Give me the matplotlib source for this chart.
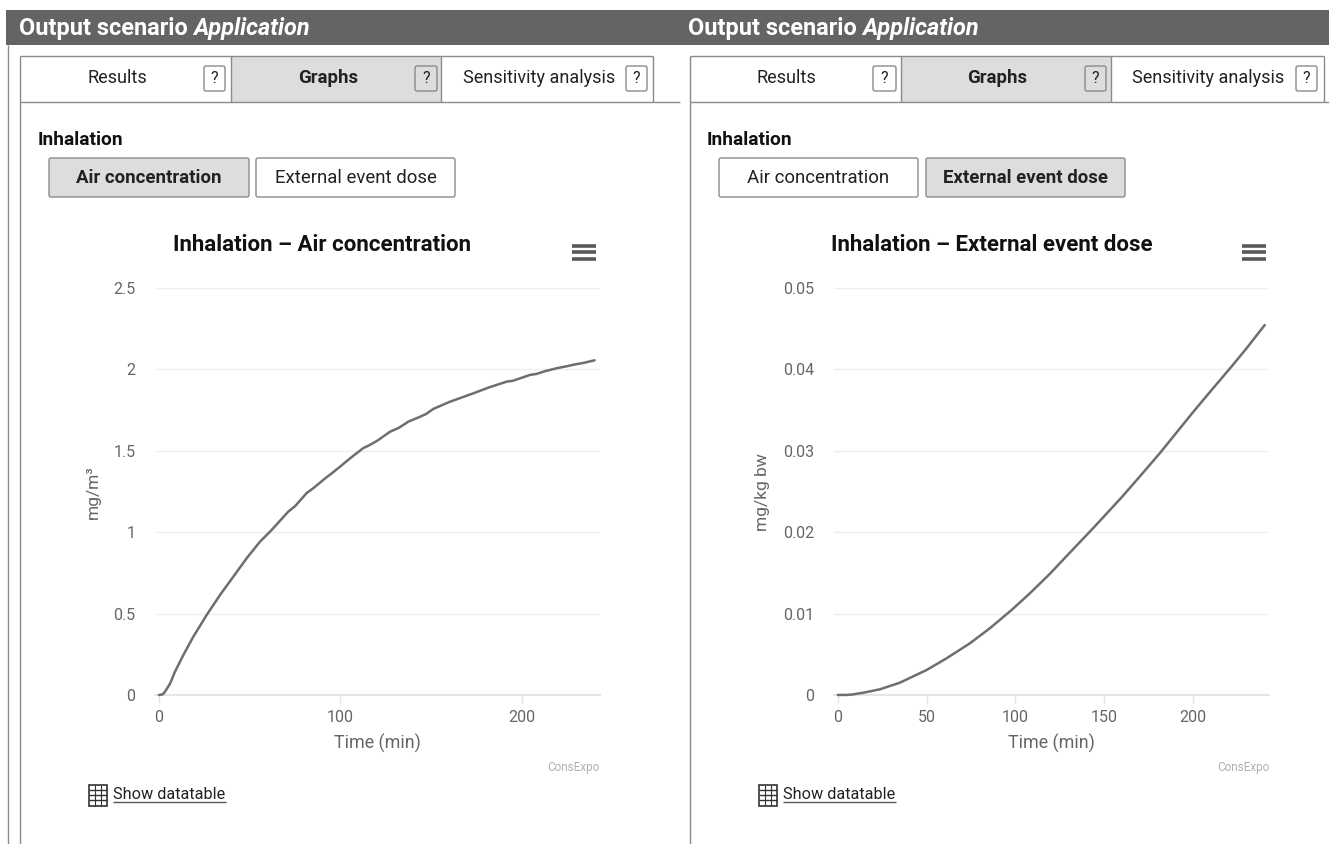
import matplotlib
matplotlib.use('Agg')
import matplotlib.pyplot as plt
from matplotlib.patches import Rectangle, FancyBboxPatch

plt.rcParams['font.family'] = ['Roboto', 'DejaVu Sans']

W, H = 1329, 844
DARK = '#636466'
EDGE = '#8a8b8d'
FILL = '#dcddde'
TEXT = '#222222'
AXTEXT = '#666666'
LINE = '#6d6e70'

# values
air_time = [0, 2, 3.3, 6.1, 8.8, 13.4, 18.9, 26.3, 33.6, 40.9, 48.3, 55.6, 62.1, 71.2, 75, 81.4, 85, 91.5, 95, 99.7,
            106, 112.6, 116, 120, 127.3, 132, 137.4, 143, 147, 151.1, 160, 173.2, 182, 191.6, 195, 204.4, 208, 213,
            219.1, 225, 229, 234, 240]
air_conc = [0, 0.004, 0.02, 0.07, 0.143, 0.245, 0.358, 0.492, 0.614, 0.726, 0.84, 0.941, 1.014, 1.126, 1.16, 1.241,
            1.27, 1.33, 1.36, 1.402, 1.46, 1.517, 1.535, 1.56, 1.617, 1.64, 1.679, 1.705, 1.725, 1.757, 1.8, 1.853,
            1.89, 1.925, 1.93, 1.966, 1.972, 1.99, 2.007, 2.02, 2.03, 2.04, 2.056]
dose_time = [0, 5, 8, 14.3, 23.7, 34.9, 50, 61.2, 74.4, 85.6, 97.9, 108.2, 119.4, 131, 143.8, 160, 170, 181.4, 200, 210,
             221.8, 230, 240.6]
dose_val = [0, 0.00001, 0.00006, 0.00028, 0.0007, 0.00151, 0.00307, 0.0045, 0.00635, 0.00819, 0.01044, 0.01249,
            0.01487, 0.01755, 0.02048, 0.0243, 0.0268, 0.02969, 0.0347, 0.0373, 0.04033, 0.0425, 0.04545]

air_yticks = [0, 0.5, 1, 1.5, 2, 2.5]
air_ylabels = ['0', '0.5', '1', '1.5', '2', '2.5']
air_xticks = [0, 100, 200]
dose_yticks = [0, 0.01, 0.02, 0.03, 0.04, 0.05]
dose_ylabels = ['0', '0.01', '0.02', '0.03', '0.04', '0.05']
dose_xticks = [0, 50, 100, 150, 200]

tab_labels = ['Results', 'Graphs', 'Sensitivity analysis']
button_labels = ['Air concentration', 'External event dose']

fig = plt.figure(figsize=(W / 100, H / 100), dpi=100, facecolor='white')

# overlay in pixel coordinates for the page furniture
page = fig.add_axes([0, 0, 1, 1])
page.set_xlim(0, W)
page.set_ylim(H, 0)
page.axis('off')


def vline(x, y0, y1, color=EDGE, lw=1.0):
    page.plot([x, x], [y0, y1], color=color, lw=lw, solid_capstyle='butt')


def hline(y, x0, x1, color=EDGE, lw=1.0):
    page.plot([x0, x1], [y, y], color=color, lw=lw, solid_capstyle='butt')


def rounded(x0, y0, x1, y1, face):
    page.add_patch(FancyBboxPatch((x0 + 1, y0 + 1), x1 - x0 - 2, y1 - y0 - 2, boxstyle='round,pad=1,rounding_size=2',
                                  fc=face, ec=EDGE, lw=1.0))


def panel(p):
    # header text
    t = page.text(p['head'], 35, 'Output scenario ', color='white', fontsize=16.9, fontweight='bold', va='baseline')
    page.annotate('Application', xy=(1, 0), xycoords=t, xytext=(0, 0), textcoords='offset points', va='bottom',
                  color='white', fontsize=16.9, fontweight='bold', fontstyle='italic')
    # tabs
    page.add_patch(Rectangle((p['graphs'][0], 56), p['graphs'][1] - p['graphs'][0], 46, fc=FILL, ec='none'))
    hline(56, p['tab0'], p['tab1'])
    hline(102, p['tab0'], p['tabline'])
    vline(p['tab0'], 56, 844)
    vline(p['graphs'][0], 56, 102)
    vline(p['graphs'][1], 56, 102)
    vline(p['tab1'], 56, 102)
    for i, (label, cx) in enumerate(zip(tab_labels, p['tabcx'])):
        page.text(cx, 83, label, ha='center', va='baseline', color=TEXT, fontsize=13.4 if i == 1 else 13,
                  fontweight='bold' if i == 1 else 'normal')
    for i, (x0, x1) in enumerate(p['help']):
        rounded(x0, 66, x1, 91, FILL if i == 1 else 'white')
        page.text((x0 + x1) / 2, 78.5, '?', ha='center', va='center', color=TEXT, fontsize=11.5)
    # section label and buttons
    page.text(p['sect'], 145, 'Inhalation', va='baseline', color='#111111', fontsize=13.8, fontweight='bold')
    for i, (label, (x0, x1)) in enumerate(zip(button_labels, p['buttons'])):
        on = i == p['active']
        rounded(x0, 158, x1, 197, FILL if on else 'white')
        page.text((x0 + x1) / 2, 183, label, ha='center', va='baseline', color=TEXT, fontsize=13.4,
                  fontweight='bold' if on else 'normal')
    # chart title and menu icon
    page.text(p['titlecx'], 251, p['title'], ha='center', va='baseline', color='#111111', fontsize=16,
              fontweight='bold')
    for y in (246, 252, 259):
        hline(y, p['menu'][0], p['menu'][1], color='#58595b', lw=2.6)
    # credit and data table link
    page.text(p['right'], 767, 'ConsExpo', ha='right', va='center', color='#b0b0b0', fontsize=8.5)
    x = p['icon']
    page.add_patch(Rectangle((x, 785), 18, 21, fc='white', ec='#333333', lw=1.2))
    for y in (790, 795, 800):
        hline(y, x, x + 18, color='#333333', lw=1.0)
    vline(x + 6, 785, 806, color='#333333', lw=0.8)
    vline(x + 12, 785, 806, color='#333333', lw=0.8)
    page.text(x + 24, 799, 'Show datatable', va='baseline', color=TEXT, fontsize=11.7)
    hline(802, x + 24, x + 137, color='#555555', lw=1.0)


page.add_patch(Rectangle((6, 10), W - 6, 35, fc=DARK, ec='none'))
vline(8, 45, 844)

panel(dict(head=19, tab0=19.5, tab1=653, tabline=680, graphs=(231, 441), tabcx=(117, 328, 539),
           help=((204, 225), (415, 437), (626, 647)), sect=37.5, buttons=((49, 249), (256, 455)), active=0,
           titlecx=322, title='Inhalation – Air concentration', menu=(572, 596), right=600, icon=89))
panel(dict(head=688, tab0=689.5, tab1=1323.5, tabline=W, graphs=(900.5, 1111), tabcx=(786, 997.5, 1208.5),
           help=((873, 896), (1085, 1106), (1296, 1317)), sect=707, buttons=((719, 918), (926, 1125)), active=1,
           titlecx=992, title='Inhalation – External event dose', menu=(1242, 1266), right=1269, icon=759))


def chart(left, right, xlim, ylim, xticks, yticks, ylabels, x, y, ylabel, ylabel_x):
    ax = fig.add_axes([left / W, 1 - 695 / H, (right - left) / W, (695 - 288) / H])
    ax.patch.set_alpha(0)
    ax.plot(x, y, color=LINE, lw=1.8, solid_capstyle='round', solid_joinstyle='round', clip_on=False, zorder=3)
    ax.set_xlim(*xlim)
    ax.set_ylim(*ylim)
    ax.set_xticks(xticks)
    ax.set_xticklabels([str(v) for v in xticks])
    ax.set_yticks(yticks)
    ax.set_yticklabels(ylabels)
    for s in ('top', 'left', 'right'):
        ax.spines[s].set_visible(False)
    ax.spines['bottom'].set_color('#e4e5e6')
    ax.spines['bottom'].set_linewidth(1.4)
    ax.grid(axis='y', color='#efefef', lw=1.0)
    ax.set_axisbelow(True)
    ax.tick_params(axis='x', length=6, width=1, color='#e4e5e6', labelcolor=AXTEXT, labelsize=11.5, pad=5)
    ax.tick_params(axis='y', length=0, labelcolor=AXTEXT, labelsize=11.5, pad=14)
    ax.set_xlabel('Time (min)', color=AXTEXT, fontsize=12.9, labelpad=6)
    page.text(ylabel_x, 492, ylabel, rotation=90, ha='center', va='center', color=AXTEXT, fontsize=12.5)
    return ax


chart(155, 600, (-2.2, 243), (0, 2.5), air_xticks, air_yticks, air_ylabels, air_time, air_conc, 'mg/m³', 93)
chart(834, 1269, (-2.2, 243), (0, 0.05), dose_xticks, dose_yticks, dose_ylabels, dose_time, dose_val, 'mg/kg bw', 763)

fig.savefig('out.png', dpi=100, facecolor='white')
